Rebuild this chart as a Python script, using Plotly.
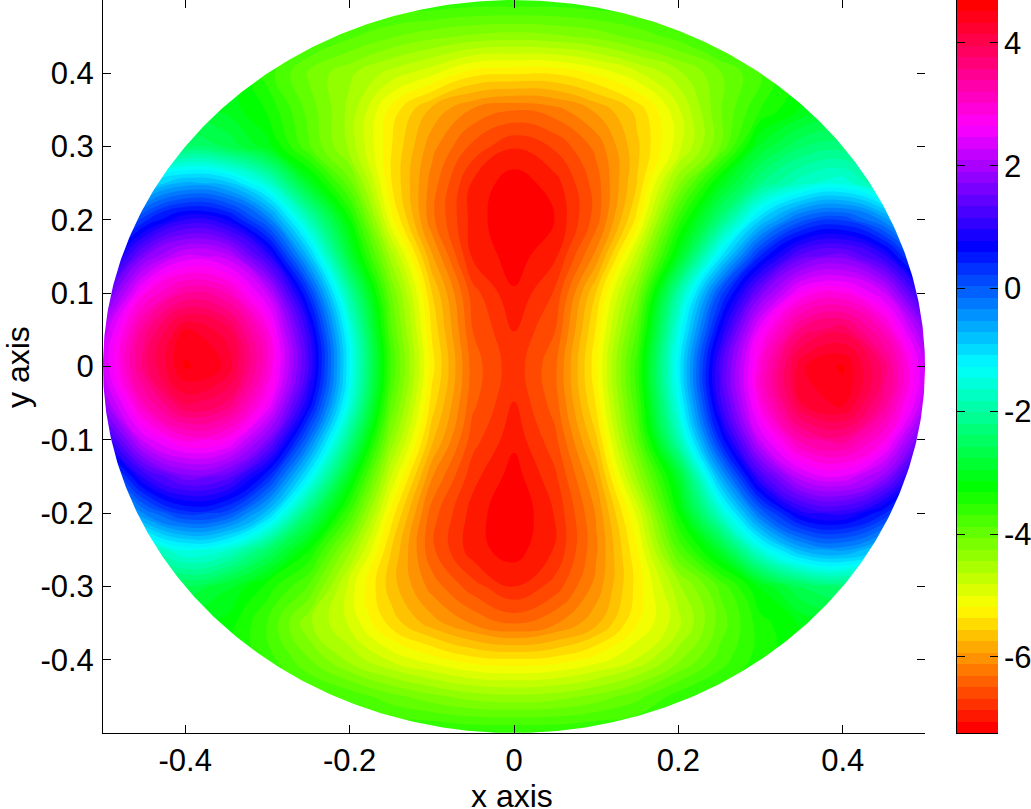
#Disco com contorno preenchido e barra de cores hsv

import numpy as np
import plotly.graph_objects as go

x_vals = [-0.5, -0.45, -0.4, -0.35, -0.3, -0.25, -0.2, -0.15, -0.1, -0.05, 0,
          0.05, 0.1, 0.15, 0.2, 0.25, 0.3, 0.35, 0.4, 0.45, 0.5]
y_vals = [0.5, 0.45, 0.4, 0.35, 0.3, 0.25, 0.2, 0.15, 0.1, 0.05, 0,
          -0.05, -0.1, -0.15, -0.2, -0.25, -0.3, -0.35, -0.4, -0.45, -0.5]

z_rows = [
    [-3.3, -3.3, -3.4, -3.4, -3.4, -3.4, -3.4, -3.5, -3.5, -3.55, -3.55, -3.55, -3.5, -3.5, -3.4, -3.4, -3.4, -3.4, -3.3, -3.3, -3.3],
    [-3.1, -3.1, -3.2, -3.3, -3.4, -3.6, -3.85, -4.05, -4.2, -4.3, -4.35, -4.3, -4.2, -4.0, -3.8, -3.5, -3.3, -3.2, -3.1, -3.1, -3.1],
    [-3.0, -3.0, -3.0, -3.1, -3.6, -4.1, -4.4, -4.7, -4.95, -5.3, -5.35, -5.35, -5.15, -4.85, -4.5, -4.1, -3.7, -3.2, -3.0, -3.0, -3.0],
    [-2.9, -2.9, -2.9, -3.0, -3.35, -3.95, -4.5, -5.25, -5.8, -6.15, -6.3, -6.2, -5.9, -5.5, -4.85, -4.1, -3.5, -3.1, -2.9, -2.9, -2.9],
    [-3.4, -3.0, -2.4, -2.6, -3.05, -3.85, -4.5, -5.35, -6.05, -6.55, -6.85, -6.65, -6.25, -5.6, -4.9, -4.1, -2.9, -2.4, -2.3, -2.7, -3.0],
    [-2.35, -1.15, -0.65, -0.8, -1.6, -2.95, -4.0, -5.35, -6.2, -6.9, -7.18, -6.95, -6.4, -5.55, -4.3, -3.1, -2.2, -1.7, -1.5, -2.05, -2.8],
    [-0.95, 0.35, 1.0, 0.78, -0.2, -1.8, -3.3, -5.1, -6.25, -6.95, -7.24, -7.05, -6.4, -5.3, -3.6, -2.3, -0.9, 0.0, 0.2, -0.4, -1.6],
    [0.28, 1.7, 2.35, 2.2, 1.1, -0.75, -2.8, -4.5, -5.9, -6.9, -7.15, -6.9, -6.05, -4.7, -3.0, -1.15, 0.45, 1.45, 1.65, 1.05, -0.35],
    [1.3, 2.8, 3.4, 3.2, 2.25, 0.33, -2.0, -4.05, -5.55, -6.6, -7.03, -6.65, -5.55, -4.2, -1.95, 0.1, 1.65, 2.7, 2.85, 2.3, 0.85],
    [2.1, 3.5, 4.35, 4.05, 2.9, 1.0, -1.45, -3.85, -5.4, -6.5, -6.87, -6.5, -5.35, -3.85, -1.45, 0.72, 2.6, 3.65, 3.9, 3.15, 1.8],
    [2.25, 3.7, 4.55, 4.3, 3.05, 1.2, -1.27, -3.7, -5.3, -6.4, -6.8, -6.35, -5.25, -3.6, -1.2, 1.2, 3.0, 4.3, 4.55, 3.7, 2.25],
    [1.85, 3.2, 4.0, 3.75, 2.65, 0.78, -1.5, -3.9, -5.45, -6.45, -6.87, -6.4, -5.35, -3.7, -1.4, 1.05, 2.9, 4.15, 4.4, 3.5, 2.1],
    [0.85, 2.35, 2.9, 2.75, 1.7, -0.15, -2.2, -4.3, -5.7, -6.6, -7.0, -6.55, -5.6, -3.95, -1.9, 0.4, 2.3, 3.3, 3.5, 2.85, 1.35],
    [-0.4, 1.05, 1.65, 1.45, 0.45, -1.2, -3.0, -4.8, -6.1, -6.8, -7.15, -6.72, -5.9, -4.4, -2.9, -0.65, 1.2, 2.25, 2.45, 1.85, 0.4],
    [-1.5, -0.3, 0.33, 0.15, -0.8, -2.35, -3.7, -5.25, -6.4, -6.95, -7.24, -6.85, -6.1, -4.95, -3.3, -1.7, -0.1, 0.9, 1.05, 0.45, -0.9],
    [-3.0, -1.95, -1.4, -1.6, -2.4, -3.3, -4.4, -5.55, -6.45, -6.98, -7.15, -6.85, -6.15, -5.2, -3.85, -2.9, -1.5, -0.65, -0.45, -1.0, -2.2],
    [-3.2, -3.0, -2.6, -2.9, -3.4, -3.9, -4.9, -5.65, -6.2, -6.6, -6.87, -6.6, -6.05, -5.3, -4.5, -3.85, -3.1, -2.55, -2.35, -2.8, -3.1],
    [-3.1, -3.1, -3.1, -3.2, -3.7, -4.4, -4.85, -5.45, -5.85, -6.15, -6.35, -6.15, -5.8, -5.2, -4.7, -4.0, -3.4, -3.1, -3.0, -3.0, -3.0],
    [-3.2, -3.2, -3.2, -3.3, -3.6, -4.05, -4.5, -4.85, -5.1, -5.3, -5.35, -5.3, -5.1, -4.8, -4.3, -3.8, -3.4, -3.2, -3.1, -3.1, -3.1],
    [-3.2, -3.2, -3.2, -3.3, -3.4, -3.6, -3.75, -4.0, -4.2, -4.35, -4.4, -4.35, -4.2, -3.95, -3.6, -3.45, -3.3, -3.2, -3.2, -3.2, -3.2],
    [-3.3, -3.3, -3.3, -3.3, -3.3, -3.4, -3.4, -3.45, -3.45, -3.5, -3.5, -3.5, -3.45, -3.45, -3.4, -3.4, -3.3, -3.3, -3.3, -3.3, -3.3],
]

z_min = -7.24
z_max = 4.70
n_bands = 64

x_ticks = [-0.4, -0.2, 0, 0.2, 0.4]
x_labels = ["-0.4", "-0.2", "0", "0.2", "0.4"]
y_ticks = [-0.4, -0.3, -0.2, -0.1, 0, 0.1, 0.2, 0.3, 0.4]
y_labels = ["-0.4", "-0.3", "-0.2", "-0.1", "0", "0.1", "0.2", "0.3", "0.4"]
bar_ticks = [-6, -4, -2, 0, 2, 4]
bar_labels = ["-6", "-4", "-2", "0", "2", "4"]

hsv = [[0, "#ff0000"], [1 / 6, "#ffff00"], [2 / 6, "#00ff00"], [3 / 6, "#00ffff"],
       [4 / 6, "#0000ff"], [5 / 6, "#ff00ff"], [1, "#ff0000"]]

FONT = "Liberation Sans"
band = (z_max - z_min) / n_bands
centers = z_min + band * (np.arange(n_bands) + 0.5)

fig = go.Figure()

fig.add_trace(go.Contour(
    x=x_vals, y=y_vals[::-1], z=z_rows[::-1],
    colorscale=hsv, zmin=centers[0], zmax=centers[-1], showscale=False,
    contours=dict(coloring="fill", start=z_min + band, end=z_max - band, size=band),
    line=dict(width=0, smoothing=1.3), hoverinfo="skip",
))

# mascara branca fora do disco (o eixo fica por cima)
ang = np.linspace(2 * np.pi, 0, 721)
mask_x = np.concatenate([[0.5, 0.6, 0.6, -0.6, -0.6, 0.6, 0.6, 0.5], 0.5 * np.cos(ang)])
mask_y = np.concatenate([[0, 0, 0.6, 0.6, -0.6, -0.6, 0, 0], 0.5 * np.sin(ang)])
fig.add_trace(go.Scatter(x=mask_x, y=mask_y, mode="lines", fill="toself", fillcolor="white",
                         line=dict(width=0, color="white"), hoverinfo="skip", showlegend=False))

# barra de cores
fig.add_trace(go.Heatmap(x=[0, 1], y=centers, z=[[c, c] for c in centers], colorscale=hsv,
                         zmin=centers[0], zmax=centers[-1], showscale=False, xaxis="x2", yaxis="y2",
                         hoverinfo="skip"))

# tracos vazios so para desenhar as marcas dos lados opostos
fig.add_trace(go.Scatter(x=[None], y=[None], xaxis="x3", yaxis="y3", showlegend=False))
fig.add_trace(go.Scatter(x=[None], y=[None], xaxis="x2", yaxis="y4", showlegend=False))

W = 1031
H = 809
m_l, m_r, m_t, m_b = 103, 33, 0, 76
pw = W - m_l - m_r
ph = H - m_t - m_b
tick_style = dict(ticks="inside", ticklen=8, tickwidth=1, tickcolor="black")
font_t = dict(family=FONT, size=31, color="black")
font_title = dict(family=FONT, size=32, color="black")

fig.update_layout(
    width=W, height=H, paper_bgcolor="white", plot_bgcolor="white", showlegend=False,
    margin=dict(l=m_l, r=m_r, t=m_t, b=m_b),
    xaxis=dict(domain=[0, 822 / pw], range=[-0.5, 0.5], tickvals=x_ticks, ticktext=x_labels, showgrid=False,
               zeroline=False, showline=True, linecolor="black", linewidth=1, tickfont=font_t, automargin=False,
               **tick_style),
    yaxis=dict(range=[-0.5, 0.5], tickvals=y_ticks, ticktext=y_labels, showgrid=False, ticklabelstandoff=2,
               zeroline=False, showline=True, linecolor="black", linewidth=1, tickfont=font_t, automargin=False,
               **tick_style),
    xaxis3=dict(overlaying="x", side="top", range=[-0.5, 0.5], tickvals=x_ticks, showticklabels=False,
                showgrid=False, zeroline=False, showline=False, **tick_style),
    yaxis3=dict(overlaying="y", side="right", range=[-0.5, 0.5], tickvals=y_ticks, showticklabels=False,
                showgrid=False, zeroline=False, showline=False, anchor="x", **tick_style),
    xaxis2=dict(domain=[854 / pw, 1], range=[0, 1], showticklabels=False, ticks="", showgrid=False,
                zeroline=False, showline=True, linecolor="black", linewidth=1, anchor="y2"),
    yaxis2=dict(range=[z_min, z_max], side="right", anchor="x2", tickvals=bar_ticks, ticktext=bar_labels,
                showgrid=False, zeroline=False, showline=False, tickfont=font_t, ticklabelstandoff=5, **tick_style),
    yaxis4=dict(overlaying="y2", side="left", anchor="x2", range=[z_min, z_max], tickvals=bar_ticks,
                showticklabels=False, showgrid=False, zeroline=False, showline=True, linecolor="black",
                linewidth=1, **tick_style),
    # titulos como anotacoes para ficarem colados na borda inferior/esquerda
    annotations=[
        dict(text="x axis", xref="paper", yref="paper", x=(512 - m_l) / pw, y=(ph - 796) / ph,
             xanchor="center", yanchor="middle", showarrow=False, font=font_title),
        dict(text="y axis", xref="paper", yref="paper", x=(18 - m_l) / pw, y=(ph - 367) / ph,
             xanchor="center", yanchor="middle", textangle=-90, showarrow=False, font=font_title),
    ],
)

fig.write_html("out.html", config=dict(displayModeBar=False), post_script="document.body.style.margin='0';")
